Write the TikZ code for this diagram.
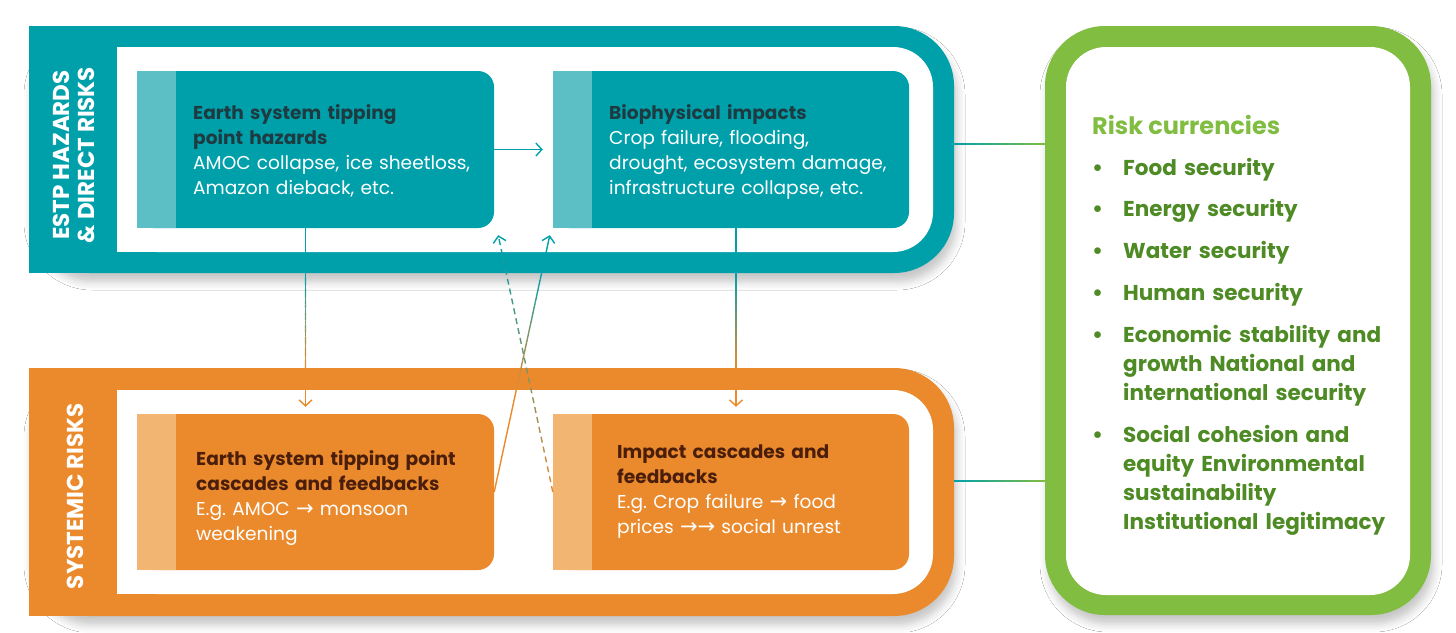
\documentclass[tikz,border=0pt]{standalone}
\usepackage{fontspec}
\setmainfont{Poppins}
\newfontfamily\arrf{DejaVu Sans}
\usetikzlibrary{arrows.meta,calc,shadows.blur}
\definecolor{tealM}{HTML}{00A0AB}
\definecolor{tealL}{HTML}{5CBFC5}
\definecolor{tealD}{HTML}{1E3B42}
\definecolor{orgM}{HTML}{EB8A2C}
\definecolor{orgL}{HTML}{F2B572}
\definecolor{orgD}{HTML}{4A1E0B}
\definecolor{grnM}{HTML}{80BD40}
\definecolor{grnD}{HTML}{4E8B25}
\newcommand\gradln[6]{%
  \foreach \k in {1,...,#5}{%
    \pgfmathsetmacro\ga{(\k-1)/#5}%
    \pgfmathsetmacro\gb{\k/#5}%
    \pgfmathsetmacro\gc{100-100*(\k-0.5)/#5}%
    \draw[#6, draw=#3!\gc!#4] ($(#1)!\ga!(#2)$) -- ($(#1)!\gb!(#2)$);
  }%
}
\newcommand\rar{{\arrf\fontsize{21pt}{25pt}\selectfont →}}
\begin{document}
\begin{tikzpicture}[x=1pt,y=-1pt,
  ln/.style={line width=1.4pt},
  tipA/.style={-{Straight Barb[length=6pt,width=13pt]}},
  frameO/.style={inner sep=0pt, rounded corners=60pt,
    blur shadow={shadow xshift=3pt, shadow yshift=-9pt, shadow blur radius=8pt, shadow opacity=22}},
  frameI/.style={inner sep=0pt, fill=white, rounded corners=40pt},
  box/.style={inner sep=0pt, rounded corners=16pt, minimum width=357pt, minimum height=157pt},
  boxtxt/.style={anchor=base west, align=left, text width=400pt, inner sep=0pt, text=white,
    font=\fontsize{18.6pt}{25pt}\selectfont\frenchspacing},
  bandtxt/.style={rotate=90, align=center, text=white, inner sep=0pt,
    font=\fontsize{23pt}{25pt}\selectfont\bfseries},
  itemtxt/.style={anchor=base west, align=left, text width=300pt, inner sep=0pt, text=grnD,
    font=\fontsize{21.5pt}{29.3pt}\selectfont\bfseries},
  bul/.style={anchor=base west, inner sep=0pt, text=grnD, font=\fontsize{22pt}{29pt}\selectfont\bfseries}
]
\fill[white] (0,0) rectangle (1456,632);
\useasboundingbox (0,0) rectangle (1456,632);

% frames
\node[frameO, fill=tealM, minimum width=925pt, minimum height=247pt] (hzf) at (491.5,149.5) {};
\fill[tealM] (hzf.north west) rectangle ($(hzf.south west)+(100,0)$);
\node[frameI, minimum width=816pt, minimum height=205pt] (hzi) at (525,149.5) {};
\fill[white] (hzi.north west) rectangle ($(hzi.south west)+(100,0)$);

\node[frameO, fill=orgM, minimum width=925pt, minimum height=248pt] (sysf) at (491.5,492) {};
\fill[orgM] (sysf.north west) rectangle ($(sysf.south west)+(100,0)$);
\node[frameI, minimum width=816pt, minimum height=204pt] (sysi) at (525,492) {};
\fill[white] (sysi.north west) rectangle ($(sysi.south west)+(100,0)$);

\node[frameO, fill=grnM, minimum width=386pt, minimum height=589pt] (rcf) at (1238,320.5) {};
\node[frameI, minimum width=344pt, minimum height=548pt] (rci) at (1238,321) {};

% band labels
\node[bandtxt] (hzl) at (74,155) {ESTP HAZARDS\\\& DIRECT RISKS};
\node[bandtxt] (sysl) at (75,496) {SYSTEMIC RISKS};

% boxes
\node[box, fill=tealM] (esh) at (315.5,149.5) {};
\fill[tealM] (esh.north west) rectangle ($(esh.south west)+(60,0)$);
\fill[tealL] (esh.north west) rectangle ($(esh.south west)+(39,0)$);
\node[box, fill=tealM, minimum width=356pt] (bio) at (731,149.5) {};
\fill[tealM] (bio.north west) rectangle ($(bio.south west)+(60,0)$);
\fill[tealL] (bio.north west) rectangle ($(bio.south west)+(39,0)$);
\node[box, fill=orgM, minimum height=156pt] (casc) at (315.5,492) {};
\fill[orgM] (casc.north west) rectangle ($(casc.south west)+(60,0)$);
\fill[orgL] (casc.north west) rectangle ($(casc.south west)+(39,0)$);
\node[box, fill=orgM, minimum width=356pt, minimum height=156pt] (imp) at (731,492) {};
\fill[orgM] (imp.north west) rectangle ($(imp.south west)+(60,0)$);
\fill[orgL] (imp.north west) rectangle ($(imp.south west)+(39,0)$);

% connectors
\draw[ln, tealM, tipA] (esh.east) -- ($(bio.west)+(-10,0)$);

\coordinate (v1a) at ($(esh.south)+(-10,0)$);
\coordinate (v1b) at (v1a |- hzf.south);
\coordinate (v1c) at (v1a |- sysf.north);
\coordinate (v1d) at ($(casc.north)+(-10,-7)$);
\draw[ln, tealM] (v1a) -- (v1b);
\gradln{v1b}{v1c}{tealM}{orgM}{24}{ln}
\draw[ln, orgM, tipA] (v1c) -- (v1d);

\coordinate (v2a) at ($(bio.south)+(5,0)$);
\coordinate (v2b) at (v2a |- hzf.south);
\coordinate (v2c) at (v2a |- sysf.north);
\coordinate (v2d) at ($(imp.north)+(5,-7)$);
\draw[ln, tealM] (v2a) -- (v2b);
\gradln{v2b}{v2c}{tealM}{orgM}{24}{ln}
\draw[ln, orgM, tipA] (v2c) -- (v2d);

\coordinate (sA) at (casc.east);
\coordinate (sB) at ($(bio.south west)+(-3,7)$);
\coordinate (s1) at ($(sA)!0.40!(sB)$);
\coordinate (s2) at ($(sA)!0.85!(sB)$);
\draw[ln, orgM] (sA) -- (s1);
\gradln{s1}{s2}{orgM}{tealM}{20}{ln}
\draw[ln, tealM, tipA] (s2) -- (sB);

\coordinate (dA) at (imp.west);
\coordinate (dB) at ($(esh.south east)+(4,7)$);
\gradln{dA}{dB}{orgM}{tealM}{26}{ln, dash pattern=on 6pt off 30pt}
\draw[ln, tealM, tipA] ($(dB)!1pt!(dA)$) -- (dB);

\coordinate (r1a) at ($(hzf.east)+(0,-5.5)$);
\coordinate (r1b) at (r1a -| rcf.west);
\gradln{r1a}{r1b}{tealM}{grnM}{16}{line width=1.3pt}
\coordinate (r2a) at ($(sysf.east)+(0,-11)$);
\coordinate (r2b) at (r2a -| rcf.west);
\gradln{r2a}{r2b}{tealM}{grnM}{16}{line width=1.3pt}

% box texts
\node[boxtxt] (eshT) at (193,119) {{\bfseries\color{tealD}Earth system tipping\\point hazards\\}AMOC collapse, ice sheetloss,\\Amazon dieback, etc.};
\node[boxtxt] (bioT) at (609,119.5) {{\bfseries\color{tealD}Biophysical impacts\\}Crop failure, flooding,\\drought, ecosystem damage,\\infrastructure collapse, etc.};
\node[boxtxt] (cascT) at (196,465) {{\bfseries\color{orgD}Earth system tipping point\\cascades and feedbacks\\}E.g. AMOC \rar{} monsoon\\weakening};
\node[boxtxt] (impT) at (617,458) {{\bfseries\color{orgD}Impact cascades and\\feedbacks\\}E.g. Crop failure \rar{} food\\prices \rar\rar{} social unrest};

% risk currencies
\node[anchor=base west, inner sep=0pt, text=grnM, font=\fontsize{24pt}{29pt}\selectfont\bfseries] (rch) at (1092,134) {Risk currencies};
\node[bul] (b1) at (1092,175) {•};
\node[itemtxt] (i1) at (1123,175) {Food security};
\node[bul] (b2) at (1092,216.5) {•};
\node[itemtxt] (i2) at (1123,216.5) {Energy security};
\node[bul] (b3) at (1092,258) {•};
\node[itemtxt] (i3) at (1123,258) {Water security};
\node[bul] (b4) at (1092,300) {•};
\node[itemtxt] (i4) at (1123,300) {Human security};
\node[bul] (b5) at (1092,342) {•};
\node[itemtxt] (i5) at (1123,342) {Economic stability and\\growth National and\\international security};
\node[bul] (b6) at (1092,442) {•};
\node[itemtxt] (i6) at (1123,442) {Social cohesion and\\equity Environmental\\sustainability\\Institutional legitimacy};
\end{tikzpicture}
\end{document}
